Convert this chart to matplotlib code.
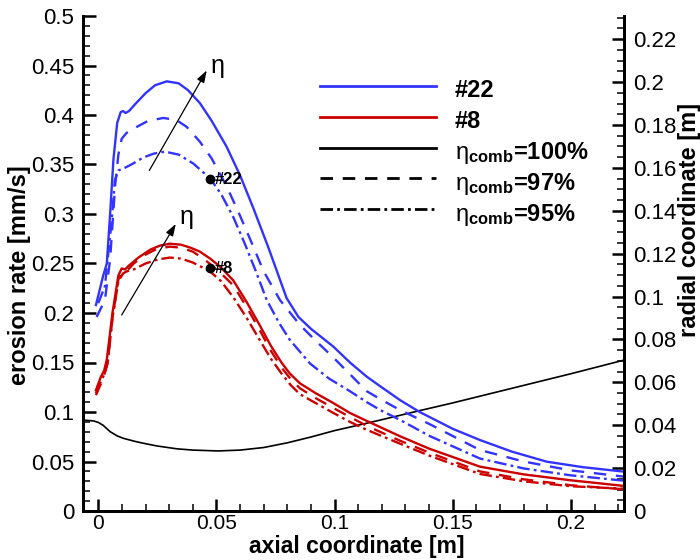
import matplotlib
matplotlib.use("Agg")
import matplotlib.pyplot as plt
from matplotlib.lines import Line2D
from matplotlib.ticker import MultipleLocator, FuncFormatter

plt.rcParams["font.family"] = ["Liberation Sans", "DejaVu Sans"]
plt.rcParams["mathtext.fontset"] = "custom"
plt.rcParams["mathtext.rm"] = "Liberation Sans"
plt.rcParams["mathtext.bf"] = "Liberation Sans:bold"
plt.rcParams["mathtext.it"] = "Liberation Sans:italic"
plt.rcParams["lines.scale_dashes"] = False

BLUE = "#3333ff"
RED = "#cc0000"
DASHED = (0, (9, 7))
DASHDOT = (0, (9, 3, 2, 3))

# --- erosion rate, injector #22 ---
b100_x = [-0.001, 0.0021, 0.0036, 0.005, 0.0064, 0.008, 0.0095, 0.0105, 0.0115, 0.013, 0.016, 0.020,
          0.024, 0.029, 0.034, 0.038, 0.043, 0.048, 0.0543, 0.060, 0.0656, 0.072, 0.0797, 0.0847,
          0.090, 0.0995, 0.1065, 0.1136, 0.1193, 0.1277, 0.136, 0.150, 0.1615, 0.175, 0.1898, 0.205, 0.2226]
b100_y = [0.208, 0.238, 0.250, 0.300, 0.355, 0.392, 0.403, 0.404, 0.402, 0.404, 0.412, 0.422,
          0.430, 0.434, 0.432, 0.425, 0.412, 0.394, 0.368, 0.339, 0.306, 0.266, 0.215, 0.196,
          0.184, 0.166, 0.150, 0.1357, 0.126, 0.112, 0.100, 0.083, 0.0717, 0.060, 0.0498, 0.0443, 0.0397]

b97_x = [-0.0007, 0.0028, 0.005, 0.0071, 0.0085, 0.0099, 0.012, 0.0163, 0.021, 0.0275, 0.033, 0.0374,
         0.043, 0.048, 0.0543, 0.0593, 0.064, 0.070, 0.0769, 0.0853, 0.092, 0.0995, 0.1136, 0.1193,
         0.1277, 0.140, 0.1615, 0.180, 0.200, 0.2226]
b97_y = [0.196, 0.213, 0.254, 0.328, 0.360, 0.376, 0.382, 0.388, 0.394, 0.397, 0.395, 0.388,
         0.373, 0.356, 0.328, 0.302, 0.276, 0.242, 0.213, 0.188, 0.172, 0.155, 0.121, 0.113,
         0.102, 0.088, 0.0616, 0.050, 0.041, 0.0347]

b95_x = [0.0, 0.0028, 0.0057, 0.007, 0.0085, 0.0107, 0.014, 0.019, 0.0235, 0.0282, 0.034, 0.0402,
         0.0473, 0.052, 0.0571, 0.062, 0.0667, 0.0713, 0.0765, 0.081, 0.0896, 0.0975, 0.1065, 0.1136,
         0.1193, 0.1277, 0.140, 0.1615, 0.180, 0.200, 0.2226]
b95_y = [0.210, 0.227, 0.294, 0.334, 0.344, 0.346, 0.350, 0.357, 0.361, 0.363, 0.360, 0.351,
         0.336, 0.320, 0.297, 0.270, 0.242, 0.213, 0.190, 0.173, 0.149, 0.134, 0.121, 0.110,
         0.102, 0.092, 0.076, 0.053, 0.043, 0.036, 0.0306]

# --- erosion rate, injector #8 ---
r100_x = [-0.001, 0.001, 0.0025, 0.0036, 0.006, 0.0085, 0.0099, 0.0113, 0.013, 0.017, 0.022, 0.026,
          0.0303, 0.035, 0.039, 0.043, 0.0473, 0.0515, 0.0571, 0.0628, 0.068, 0.073, 0.0775, 0.081,
          0.0853, 0.092, 0.0995, 0.1065, 0.1136, 0.1277, 0.140, 0.1615, 0.180, 0.200, 0.2226]
r100_y = [0.122, 0.135, 0.142, 0.153, 0.200, 0.238, 0.245, 0.244, 0.248, 0.256, 0.264, 0.268,
          0.270, 0.269, 0.266, 0.262, 0.255, 0.247, 0.233, 0.211, 0.189, 0.167, 0.150, 0.139,
          0.129, 0.119, 0.109, 0.099, 0.091, 0.0755, 0.063, 0.0448, 0.037, 0.031, 0.0253]

r97_x = [-0.001, 0.001, 0.0025, 0.004, 0.006, 0.0085, 0.0105, 0.0123, 0.015, 0.020, 0.025, 0.0303,
         0.035, 0.040, 0.045, 0.0515, 0.0571, 0.0628, 0.068, 0.073, 0.0775, 0.0815, 0.0853, 0.092,
         0.0995, 0.1065, 0.1136, 0.1277, 0.140, 0.1615, 0.180, 0.200, 0.2226]
r97_y = [0.117, 0.128, 0.137, 0.150, 0.195, 0.234, 0.242, 0.243, 0.250, 0.259, 0.265, 0.267,
         0.266, 0.262, 0.254, 0.241, 0.228, 0.206, 0.184, 0.162, 0.145, 0.133, 0.124, 0.114,
         0.104, 0.095, 0.086, 0.071, 0.059, 0.040, 0.032, 0.026, 0.0219]

r95_x = [-0.001, 0.001, 0.0025, 0.004, 0.006, 0.0085, 0.0105, 0.012, 0.015, 0.020, 0.025, 0.0303,
         0.035, 0.040, 0.0473, 0.052, 0.0571, 0.0628, 0.068, 0.073, 0.0775, 0.0815, 0.0853, 0.092,
         0.0995, 0.1065, 0.1136, 0.1277, 0.140, 0.1615, 0.180, 0.200, 0.2226]
r95_y = [0.119, 0.130, 0.138, 0.150, 0.195, 0.232, 0.240, 0.242, 0.244, 0.250, 0.254, 0.256,
         0.255, 0.251, 0.242, 0.232, 0.216, 0.195, 0.174, 0.154, 0.139, 0.127, 0.118, 0.109,
         0.099, 0.090, 0.082, 0.068, 0.056, 0.0374, 0.030, 0.025, 0.0225]

# --- chamber contour (right axis) ---
wall_x = [-0.0066, -0.002, 0.0, 0.002, 0.005, 0.008, 0.0106, 0.015, 0.019, 0.025, 0.0332, 0.040,
          0.0507, 0.060, 0.070, 0.080, 0.090, 0.100, 0.110, 0.1193, 0.136, 0.150, 0.175, 0.200, 0.2226]
wall_r = [0.0424, 0.0420, 0.0413, 0.0400, 0.0370, 0.0350, 0.0339, 0.0326, 0.0316, 0.0303, 0.0290, 0.0284,
          0.0280, 0.0284, 0.0296, 0.0318, 0.0345, 0.0375, 0.0400, 0.0424, 0.0468, 0.0504, 0.0572, 0.0640, 0.0704]

probe_x = [0.0473, 0.0473]
probe_y = [0.335, 0.245]
probe_names = ["#22", "#8"]

legend_labels = ["#22", "#8",
                 r"$\mathrm{\eta}_{\mathbf{comb}}$=100%",
                 r"$\mathrm{\eta}_{\mathbf{comb}}$=97%",
                 r"$\mathrm{\eta}_{\mathbf{comb}}$=95%"]

fig = plt.figure(figsize=(7, 5.6), dpi=100)
ax = fig.add_axes([82.7 / 700, 49 / 560, 541.6 / 700, 495 / 560])
ax2 = ax.twinx()

lw = 1.7
ax2.plot(wall_x, wall_r, color="black", lw=1.2)
ax.plot(b100_x, b100_y, color=BLUE, lw=lw)
ax.plot(b97_x, b97_y, color=BLUE, lw=lw, ls=DASHED)
ax.plot(b95_x, b95_y, color=BLUE, lw=lw, ls=DASHDOT)
ax.plot(r100_x, r100_y, color=RED, lw=lw)
ax.plot(r97_x, r97_y, color=RED, lw=lw, ls=DASHED)
ax.plot(r95_x, r95_y, color=RED, lw=lw, ls=DASHDOT)
ax.set_zorder(ax2.get_zorder() + 1)
ax.patch.set_visible(False)

# probe markers
ax.plot(probe_x, probe_y, "o", color="black", ms=6, zorder=5)
for px, py, name in zip(probe_x, probe_y, probe_names):
    ax.text(px + 0.0018, py, name, fontsize=12, fontweight="bold", va="center", ha="left")

# efficiency arrows
arrow_kw = dict(arrowstyle="-|>,head_length=0.6,head_width=0.2", lw=0.9, color="black",
                shrinkA=0, shrinkB=0, mutation_scale=12)
ax.annotate("", xy=(0.0459, 0.445), xytext=(0.0216, 0.344), arrowprops=arrow_kw)
ax.annotate("", xy=(0.0328, 0.290), xytext=(0.0099, 0.198), arrowprops=arrow_kw)
ax.text(0.0475, 0.449, "η", fontsize=18, ha="left", va="center")
ax.text(0.0345, 0.297, "η", fontsize=18, ha="left", va="center")

ax.set_xlim(-0.0066, 0.2226)
ax.set_ylim(0, 0.5)
ax2.set_ylim(0, 0.2308)

fmt = FuncFormatter(lambda v, p: f"{v:g}")
ax.xaxis.set_major_locator(MultipleLocator(0.05))
ax.xaxis.set_minor_locator(MultipleLocator(0.01))
ax.yaxis.set_major_locator(MultipleLocator(0.05))
ax.yaxis.set_minor_locator(MultipleLocator(0.01))
ax2.yaxis.set_major_locator(MultipleLocator(0.02))
ax2.yaxis.set_minor_locator(MultipleLocator(0.005))
for a in (ax.xaxis, ax.yaxis, ax2.yaxis):
    a.set_major_formatter(fmt)

for a in (ax, ax2):
    a.spines["top"].set_visible(False)
    for s in ("left", "right", "bottom"):
        a.spines[s].set_linewidth(2)
    a.tick_params(which="major", direction="in", length=9, width=1.8, labelsize=16)
    a.tick_params(which="minor", direction="in", length=5, width=1.1)
ax.tick_params(axis="y", pad=6)
ax.tick_params(axis="x", pad=2, labelsize=15)
ax2.tick_params(axis="y", pad=6)

ax.set_xlabel("axial coordinate [m]", fontsize=16.5, fontweight="bold")
ax.set_ylabel("erosion rate [mm/s]", fontsize=17, fontweight="bold")
ax2.set_ylabel("radial coordinate [m]", fontsize=17, fontweight="bold")
ax.xaxis.label.set_verticalalignment("bottom")
ax.xaxis.set_label_coords(0.506, -47.5 / 495)
ax.yaxis.set_label_coords(-0.095, 0.477)
ax2.yaxis.set_label_coords(1.099, 0.588)

handles = [Line2D([], [], color=BLUE, lw=2),
           Line2D([], [], color=RED, lw=2),
           Line2D([], [], color="black", lw=2),
           Line2D([], [], color="black", lw=2, ls=DASHED),
           Line2D([], [], color="black", lw=2, ls=DASHDOT)]
ax.legend(handles, legend_labels, loc="upper left", bbox_to_anchor=(320 / 700, 1 - 74 / 560),
          bbox_transform=fig.transFigure, frameon=False, prop={"weight": "bold", "size": 17},
          handlelength=4.9, handleheight=1.64, handletextpad=0.8, labelspacing=0,
          borderpad=0, borderaxespad=0)

fig.savefig("out.png", dpi=100)
